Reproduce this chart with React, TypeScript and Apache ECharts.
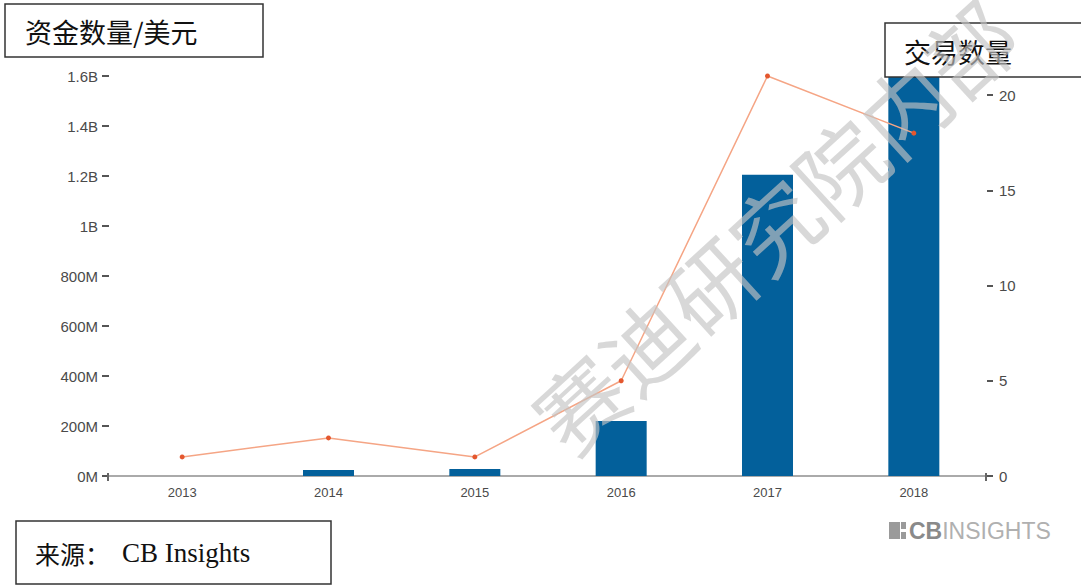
import React, { useEffect, useRef } from "react";
import * as echarts from "echarts";

const years = ["2013", "2014", "2015", "2016", "2017", "2018"];
const funding = [0, 24e6, 28e6, 220e6, 1.205e9, 1.65e9];
const deals = [1, 2, 1, 5, 21, 18];

const fmtMoney = (v: number) => {
  if (v >= 1e9) return `${parseFloat((v / 1e9).toFixed(1))}B`;
  return `${Math.round(v / 1e6)}M`;
};

export default function App() {
  const ref = useRef<HTMLDivElement>(null);
  useEffect(() => {
    if (!ref.current) return;
    const chart = echarts.init(ref.current, null, { renderer: "svg" });
    const axisFont = { color: "#4a4a4a", fontSize: 15, fontFamily: "Liberation Sans, Arial, sans-serif" };
    chart.setOption({
      animation: false,
      backgroundColor: "#fff",
      grid: { left: 109, right: 94, top: 76, bottom: 110 },
      xAxis: {
        type: "category",
        data: years,
        axisLine: { lineStyle: { color: "#aaa", width: 2 } },
        axisTick: { alignWithLabel: true, length: 5, lineStyle: { color: "#888" } },
        axisLabel: { ...axisFont, fontSize: 13, margin: 10 },
      },
      yAxis: [
        {
          type: "value",
          min: 0,
          max: 1.6e9,
          interval: 2e8,
          splitLine: { show: false },
          axisLine: { show: false },
          axisTick: { show: true, length: 7, lineStyle: { color: "#555", width: 2 } },
          axisLabel: { ...axisFont, margin: 11, formatter: fmtMoney },
        },
        {
          type: "value",
          min: 0,
          max: 21,
          interval: 5,
          splitLine: { show: false },
          axisLine: { show: false },
          axisTick: { show: true, length: 6, lineStyle: { color: "#555", width: 2 } },
          axisLabel: { ...axisFont, margin: 12, showMaxLabel: false },
        },
      ],
      series: [
        {
          type: "bar",
          data: funding,
          barWidth: 51,
          clip: false,
          itemStyle: { color: "#03609b" },
          z: 2,
        },
        {
          type: "line",
          yAxisIndex: 1,
          data: deals,
          symbol: "circle",
          symbolSize: 5,
          lineStyle: { color: "#f5a585", width: 1.5 },
          itemStyle: { color: "#e4572e" },
          z: 3,
        },
      ],
      graphic: [
        {
          type: "line",
          shape: { x1: 108, y1: 473, x2: 108, y2: 481 },
          style: { stroke: "#666", lineWidth: 2 },
          z: 10,
        },
        {
          type: "line",
          shape: { x1: 986, y1: 473, x2: 986, y2: 481 },
          style: { stroke: "#666", lineWidth: 2 },
          z: 10,
        },
        {
          type: "rect",
          shape: { x: 5, y: 4, width: 258, height: 53 },
          style: { fill: "#fff", stroke: "#333", lineWidth: 1.5 },
          z: 100,
        },
        {
          type: "text",
          x: 25,
          y: 31,
          style: {
            text: "资金数量/美元",
            fill: "#111",
            font: '27px "Noto Sans CJK SC", sans-serif',
            verticalAlign: "middle",
          },
          z: 101,
        },
        {
          type: "rect",
          shape: { x: 885, y: 23, width: 200, height: 54 },
          style: { fill: "#fff", stroke: "#333", lineWidth: 1.5 },
          z: 100,
        },
        {
          type: "text",
          x: 904,
          y: 51,
          style: {
            text: "交易数量",
            fill: "#111",
            font: '27px "Noto Sans CJK SC", sans-serif',
            verticalAlign: "middle",
          },
          z: 101,
        },
        {
          type: "rect",
          shape: { x: 16, y: 521, width: 315, height: 63 },
          style: { fill: "#fff", stroke: "#333", lineWidth: 1.5 },
          z: 100,
        },
        {
          type: "text",
          x: 35,
          y: 553,
          style: {
            text: "来源：",
            fill: "#111",
            font: '25px "Noto Sans CJK SC", sans-serif',
            verticalAlign: "middle",
          },
          z: 101,
        },
        {
          type: "text",
          x: 122,
          y: 553,
          style: {
            text: "CB Insights",
            fill: "#111",
            font: '27px "Liberation Serif", serif',
            verticalAlign: "middle",
          },
          z: 101,
        },
        {
          type: "rect",
          shape: { x: 889, y: 522, width: 11, height: 17 },
          style: { fill: "#9a9a9a" },
          z: 50,
        },
        {
          type: "rect",
          shape: { x: 901, y: 522, width: 5, height: 7 },
          style: { fill: "#9a9a9a" },
          z: 50,
        },
        {
          type: "rect",
          shape: { x: 901, y: 532, width: 5, height: 7 },
          style: { fill: "#9a9a9a" },
          z: 50,
        },
        {
          type: "text",
          x: 909,
          y: 531,
          style: {
            text: "{b|CB}{l|INSIGHTS}",
            verticalAlign: "middle",
            rich: {
              b: { fill: "#8a8a8a", font: 'bold 23px "Liberation Sans", sans-serif' },
              l: { fill: "#b0b0b0", font: '23px "Liberation Sans Narrow", "Liberation Sans", sans-serif' },
            },
          },
          z: 50,
        },
        {
          type: "text",
          x: 773,
          y: 224,
          rotation: 0.74,
          style: {
            text: "赛迪研究院内部",
            fill: "rgba(195,195,195,0.65)",
            font: '88px "Noto Sans CJK SC", sans-serif',
            align: "center",
            verticalAlign: "middle",
          },
          z: 200,
        },
      ],
    });
    return () => chart.dispose();
  }, []);
  return <div ref={ref} style={{ position: "fixed", left: 0, top: 0, width: 1081, height: 586 }} />;
}
